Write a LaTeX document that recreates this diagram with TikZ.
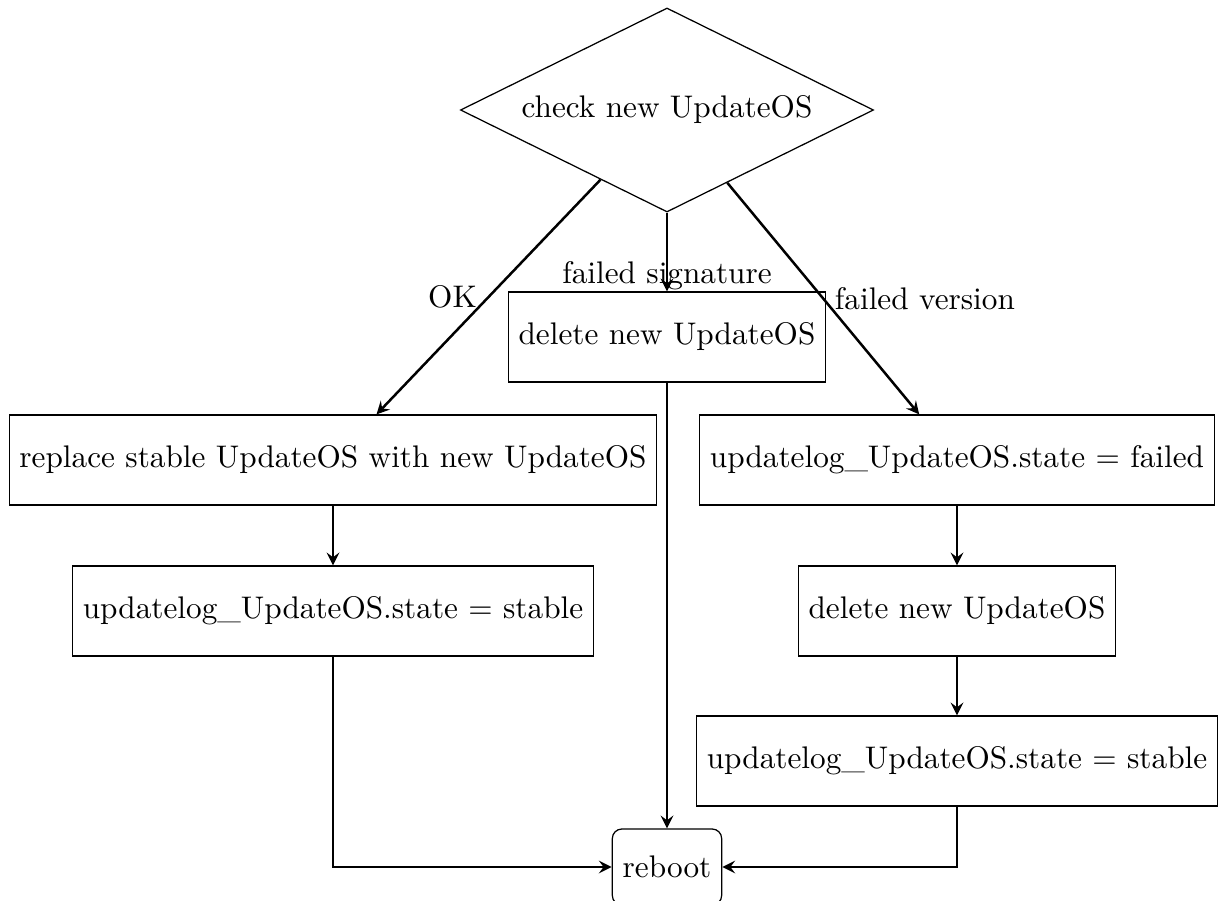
\documentclass[tikz,border=0pt]{standalone}
\usetikzlibrary{shapes.geometric,arrows}
\begin{document}
\begin{tikzpicture}[x=0.32pt,y=-0.32pt,
  box/.style={draw,line width=0.4pt,rectangle,minimum height=28.8pt,inner xsep=3.3pt},
  decision/.style={draw,line width=0.4pt,diamond,aspect=2.02,minimum width=132.2pt,minimum height=65.3pt,inner sep=0pt},
  endbox/.style={draw,line width=0.4pt,rectangle,rounded corners=3pt,minimum width=34.9pt,minimum height=24.3pt,inner xsep=3.3pt},
  flow/.style={->,>=stealth,line width=0.8pt}]
\useasboundingbox (0,0) rectangle (1224,901);
\node[decision] (check) at (667,110) {check new UpdateOS};
\node[box] (delmid) at (667,337) {delete new UpdateOS};
\node[box] (replace) at (333,460) {replace stable UpdateOS with new UpdateOS};
\node[box] (failed) at (957,460) {updatelog\_UpdateOS.state = failed};
\node[box] (stableL) at (333,611) {updatelog\_UpdateOS.state = stable};
\node[box] (delR) at (957,611) {delete new UpdateOS};
\node[box] (stableR) at (957,761) {updatelog\_UpdateOS.state = stable};
\node[endbox] (reboot) at (667,867) {reboot};

\draw[flow] (check) -- node[left] {OK} (replace);
\draw[flow] (check) -- node[pos=0.8] {failed signature} (delmid);
\draw[flow] (check) -- node[right] {failed version} (failed);
\draw[flow] (replace) -- (stableL);
\draw[flow] (failed) -- (delR);
\draw[flow] (delR) -- (stableR);
\draw[flow] (delmid) -- (reboot);
\draw[flow] (stableL) |- (reboot);
\draw[flow] (stableR) |- (reboot);
\end{tikzpicture}
\end{document}
